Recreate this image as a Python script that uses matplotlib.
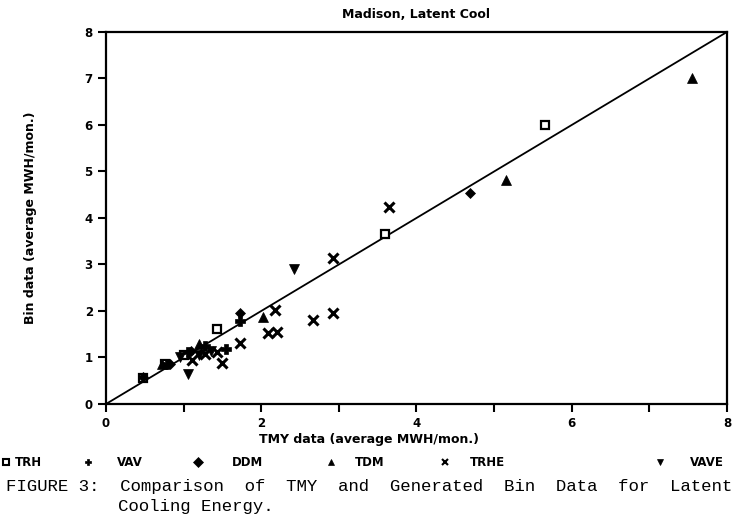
import matplotlib
matplotlib.use("Agg")
import matplotlib.pyplot as plt
from matplotlib.lines import Line2D

# ---- data ----
trh_x = [0.48, 0.76, 1.00, 1.43, 3.60, 5.66]
trh_y = [0.55, 0.86, 1.05, 1.61, 3.65, 6.00]

vav_x = [0.78, 1.05, 1.28, 1.55, 1.72]
vav_y = [0.86, 1.12, 1.25, 1.18, 1.78]

ddm_x = [0.48, 0.82, 1.10, 1.73, 4.69]
ddm_y = [0.58, 0.87, 1.15, 1.96, 4.54]

tdm_x = [0.72, 1.20, 2.02, 5.15, 7.55]
tdm_y = [0.85, 1.28, 1.87, 4.82, 7.00]

trhe_x = [1.11, 1.28, 1.49, 1.43, 1.73, 2.09, 2.20, 2.18, 2.67, 2.93, 2.93, 3.65]
trhe_y = [0.95, 1.08, 0.88, 1.12, 1.32, 1.52, 1.55, 2.02, 1.81, 1.95, 3.14, 4.24]

vave_x = [0.95, 1.05, 1.20, 1.35, 2.42]
vave_y = [1.02, 0.64, 1.06, 1.13, 2.90]

line_x = [0, 8]
line_y = [0, 8]

x_major = [0, 2, 4, 6, 8]
x_minor = [1, 3, 5, 7]
y_major = [0, 1, 2, 3, 4, 5, 6, 7, 8]

series = [
    ("TRH", trh_x, trh_y, dict(marker="s", mfc="white", mec="black", ms=5.5, mew=1.6)),
    ("VAV", vav_x, vav_y, dict(marker="P", mfc="black", mec="black", ms=6.5, mew=0.5)),
    ("DDM", ddm_x, ddm_y, dict(marker="D", mfc="black", mec="black", ms=5.5, mew=0.5)),
    ("TDM", tdm_x, tdm_y, dict(marker="^", mfc="black", mec="black", ms=6.5, mew=0.5)),
    ("TRHE", trhe_x, trhe_y, dict(marker="x", mfc="black", mec="black", ms=6.5, mew=2.2)),
    ("VAVE", vave_x, vave_y, dict(marker="v", mfc="black", mec="black", ms=6.5, mew=0.5)),
]

fig = plt.figure(figsize=(7.46, 5.20), dpi=100)
ax = fig.add_axes([0.1421, 0.2231, 0.8324, 0.7154])

ax.plot(line_x, line_y, color="black", lw=1.3)
for name, xs, ys, st in series:
    ax.plot(xs, ys, linestyle="none", **st)

ax.set_xlim(0, 8)
ax.set_ylim(0, 8)
ax.set_xticks(x_major)
ax.set_xticks(x_minor, minor=True)
ax.set_yticks(y_major)
ax.tick_params(axis="both", direction="out", length=6, width=1.5, labelsize=8.5,
               colors="black")
ax.tick_params(axis="x", which="minor", direction="out", length=6, width=1.5)
for lab in ax.get_xticklabels() + ax.get_yticklabels():
    lab.set_fontweight("bold")
for sp in ax.spines.values():
    sp.set_linewidth(1.6)

ax.set_title("Madison, Latent Cool", fontsize=9, fontweight="bold", pad=10)
ax.set_ylabel("Bin data (average MWH/mon.)", fontsize=9, fontweight="bold", labelpad=34)
fig.text(0.495, 0.155, "TMY data (average MWH/mon.)", ha="center", va="center",
         fontsize=9, fontweight="bold")

# legend row below the axes
leg_items = [
    (0.008, "s", "white", "TRH", 0.020),
    (0.118, "P", "black", "VAV", 0.157),
    (0.266, "D", "black", "DDM", 0.311),
    (0.444, "^", "black", "TDM", 0.476),
    (0.596, "x", "black", "TRHE", 0.630),
    (0.885, "v", "black", "VAVE", 0.925),
]
ly = 0.111
for mx, mk, fc, name, tx in leg_items:
    fig.add_artist(Line2D([mx], [ly], transform=fig.transFigure, marker=mk,
                          mfc=fc, mec="black", ms=5, mew=1.5 if mk in "sx" else 0.5,
                          linestyle="none"))
    fig.text(tx, ly, name, ha="left", va="center", fontsize=8.5, fontweight="bold")

fig.text(0.008, 0.064, "FIGURE 3:  Comparison  of  TMY  and  Generated  Bin  Data  for  Latent",
         ha="left", va="center", fontsize=12.5, family="Liberation Mono")
fig.text(0.158, 0.025, "Cooling Energy.", ha="left", va="center", fontsize=12.5,
         family="Liberation Mono")

fig.savefig("out.png", dpi=100)
